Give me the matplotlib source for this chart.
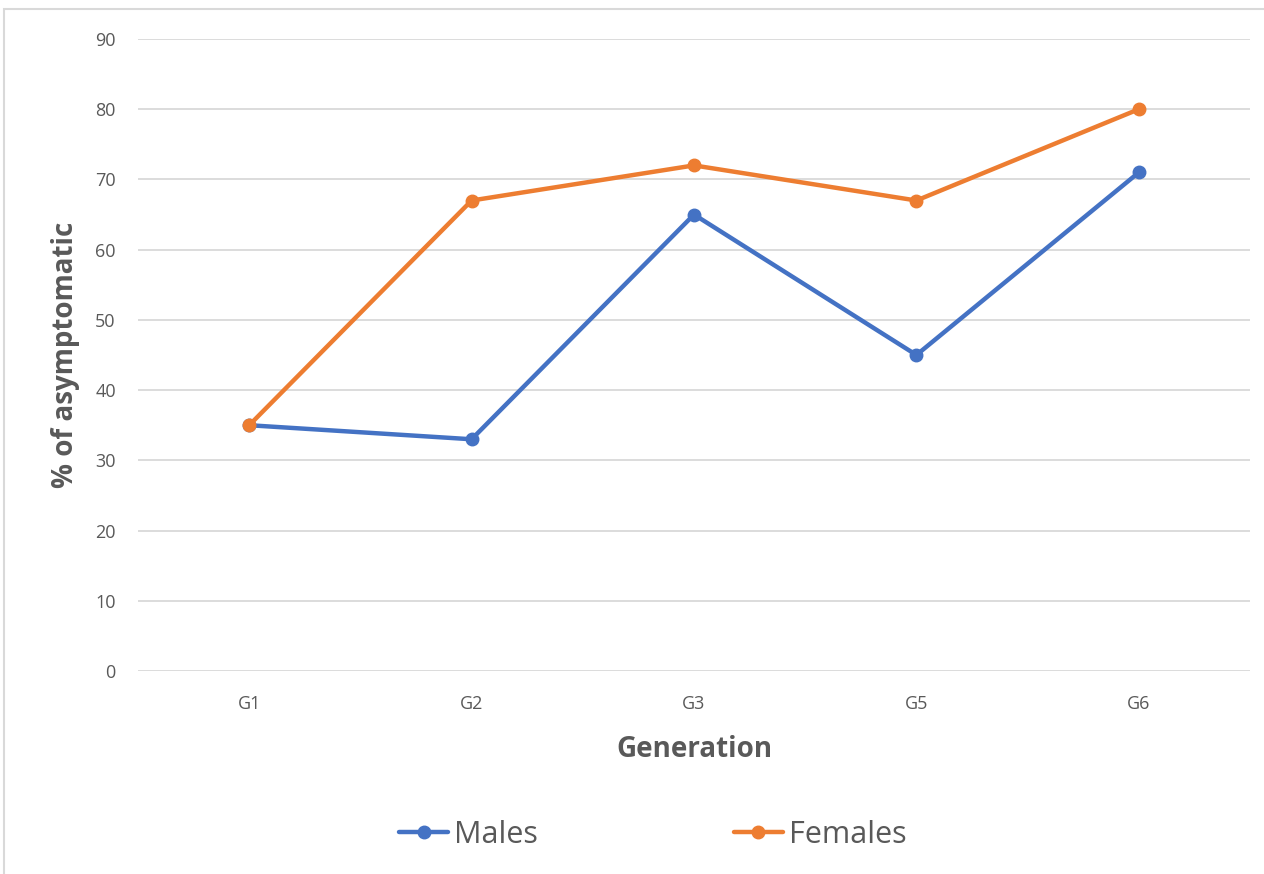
import matplotlib.pyplot as plt
from matplotlib.patches import Rectangle

generations = ["G1", "G2", "G3", "G5", "G6"]
males = [35, 33, 65, 45, 71]
females = [35, 67, 72, 67, 80]
y_ticks = [0, 10, 20, 30, 40, 50, 60, 70, 80, 90]

BLUE = "#4472C4"
ORANGE = "#ED7D31"
TEXT = "#595959"
GRID = "#D9D9D9"

plt.rcParams["font.family"] = ["Open Sans", "DejaVu Sans"]

fig = plt.figure(figsize=(12.64, 8.74), dpi=100)
ax = fig.add_axes([138 / 1264, 1 - 671 / 874, 1112 / 1264, 632 / 874])

# chart area border (top and left visible only)
fig.patches.append(Rectangle((4 / 1264, -0.1), 1.2, 1 - 9 / 874 + 0.1,
                             transform=fig.transFigure, fill=False,
                             edgecolor="#D9D9D9", lw=1.5))

x = list(range(len(generations)))
ax.plot(x, males, color=BLUE, lw=3.2, marker="o", ms=9, label="Males",
        solid_capstyle="round", zorder=3)
ax.plot(x, females, color=ORANGE, lw=3.2, marker="o", ms=9, label="Females",
        solid_capstyle="round", zorder=3)

ax.set_xlim(-0.5, len(generations) - 0.5)
ax.set_ylim(0, 90)
ax.set_yticks(y_ticks)
ax.set_xticks(x)
ax.set_xticklabels(generations)
ax.grid(axis="y", color=GRID, lw=1.3)
ax.set_axisbelow(True)
for s in ax.spines.values():
    s.set_visible(False)
ax.tick_params(length=0, labelsize=13, colors=TEXT)
ax.tick_params(axis="y", pad=16)
ax.tick_params(axis="x", pad=17)

ax.set_xlabel("Generation", fontsize=20, fontweight="bold", color=TEXT, labelpad=16)
ax.set_ylabel("% of asymptomatic", fontsize=20, fontweight="bold", color=TEXT, labelpad=11)

leg = fig.legend(loc="center", bbox_to_anchor=(653 / 1264, 1 - 835 / 874), ncol=2,
                 frameon=False, fontsize=22, handlelength=1.6, handletextpad=0.2,
                 columnspacing=6.4)
for t in leg.get_texts():
    t.set_color(TEXT)

fig.savefig("out.png", dpi=100)
